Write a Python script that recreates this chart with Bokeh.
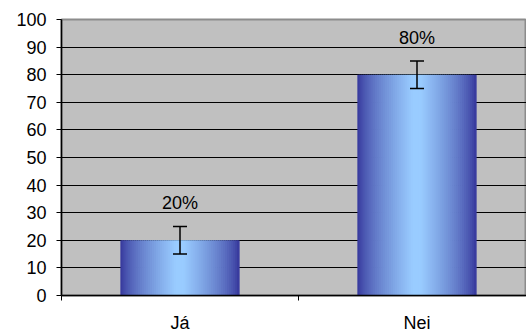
from bokeh.plotting import figure
from bokeh.models import Range1d, FixedTicker, Whisker, ColumnDataSource, TeeHead
from bokeh.core.properties import value
from bokeh.embed import file_html
from bokeh.resources import INLINE

categories = ["Já", "Nei"]
values = [20, 80]
errors = [5, 5]
labels = ["20%", "80%"]
y_ticks = [0, 10, 20, 30, 40, 50, 60, 70, 80, 90, 100]

FONT = "Liberation Sans"
N_CAT = len(categories)
centers = [i + 0.5 for i in range(N_CAT)]

W, H = 526, 335
ML, MT, MB = 61, 19, 38
frame_w = W - ML
cat_px = 237.0
x_end = frame_w / cat_px

p = figure(width=W, height=H, output_backend="svg", toolbar_location=None,
           x_range=Range1d(0, x_end), y_range=Range1d(0, 100),
           min_border_left=ML, min_border_right=0, min_border_top=MT,
           min_border_bottom=MB)
p.border_fill_color = "white"
p.background_fill_color = "#C0C0C0"
p.outline_line_color = "#8C8C8C"
p.outline_line_width = 2

# gradient bars as thin vertical slices
def lerp(c1, c2, t):
    return "#%02x%02x%02x" % tuple(int(round(a + (b - a) * t)) for a, b in zip(c1, c2))

dark = (0x33, 0x33, 0x99)
light = (0x99, 0xCC, 0xFF)
NS = 60
bar_w = 0.5
xs, tops, cols = [], [], []
for c, v in zip(centers, values):
    for k in range(NS):
        f = (k + 0.5) / NS
        d = 1 - abs(f - 0.5) * 2  # 0 at edges, 1 in center
        t = min(1.0, d ** 0.7 * 1.05)
        xs.append(c - bar_w / 2 + f * bar_w)
        tops.append(v)
        cols.append(lerp(dark, light, t))
p.vbar(x=xs, top=tops, bottom=0, width=bar_w / NS * 1.4, fill_color=cols, line_color=None)

# error bars
src = ColumnDataSource(dict(x=centers, lo=[v - e for v, e in zip(values, errors)],
                            hi=[v + e for v, e in zip(values, errors)]))
wh = Whisker(base="x", lower="lo", upper="hi", source=src, line_color="black", line_width=1.5,
             upper_head=TeeHead(size=14, line_color="black", line_width=1.5),
             lower_head=TeeHead(size=14, line_color="black", line_width=1.5),
             level="overlay")
p.add_layout(wh)

# data labels
p.text(x=centers, y=values, text=labels, text_align="center", text_baseline="middle",
       y_offset=-37, text_font=value(FONT), text_font_size="18px", text_color="black")

# grid
p.xgrid.visible = False
p.ygrid.ticker = FixedTicker(ticks=y_ticks[1:-1])
p.ygrid.grid_line_color = "black"
p.ygrid.grid_line_width = 1

# axes
p.yaxis.ticker = FixedTicker(ticks=y_ticks)
p.yaxis.axis_line_color = "black"
p.yaxis.axis_line_width = 1.5
p.yaxis.major_tick_line_color = "black"
p.yaxis.major_tick_out = 5
p.yaxis.major_tick_in = 0
p.yaxis.minor_tick_line_color = None
p.yaxis.major_label_text_font = FONT
p.yaxis.major_label_text_font_size = "18px"
p.yaxis.major_label_text_color = "black"
p.yaxis.major_label_standoff = 10

p.xaxis.ticker = FixedTicker(ticks=centers, minor_ticks=list(range(N_CAT + 1)))
p.xaxis.major_label_overrides = {c: n for c, n in zip(centers, categories)}
p.xaxis.axis_line_color = "black"
p.xaxis.axis_line_width = 1.5
p.xaxis.major_tick_line_color = None
p.xaxis.major_tick_out = 0
p.xaxis.major_tick_in = 0
p.xaxis.minor_tick_line_color = "black"
p.xaxis.minor_tick_out = 5
p.xaxis.minor_tick_in = 0
p.xaxis.major_label_text_font = FONT
p.xaxis.major_label_text_font_size = "18px"
p.xaxis.major_label_text_color = "black"
p.xaxis.major_label_standoff = 12

open("out.html", "w").write(file_html(p, INLINE))
